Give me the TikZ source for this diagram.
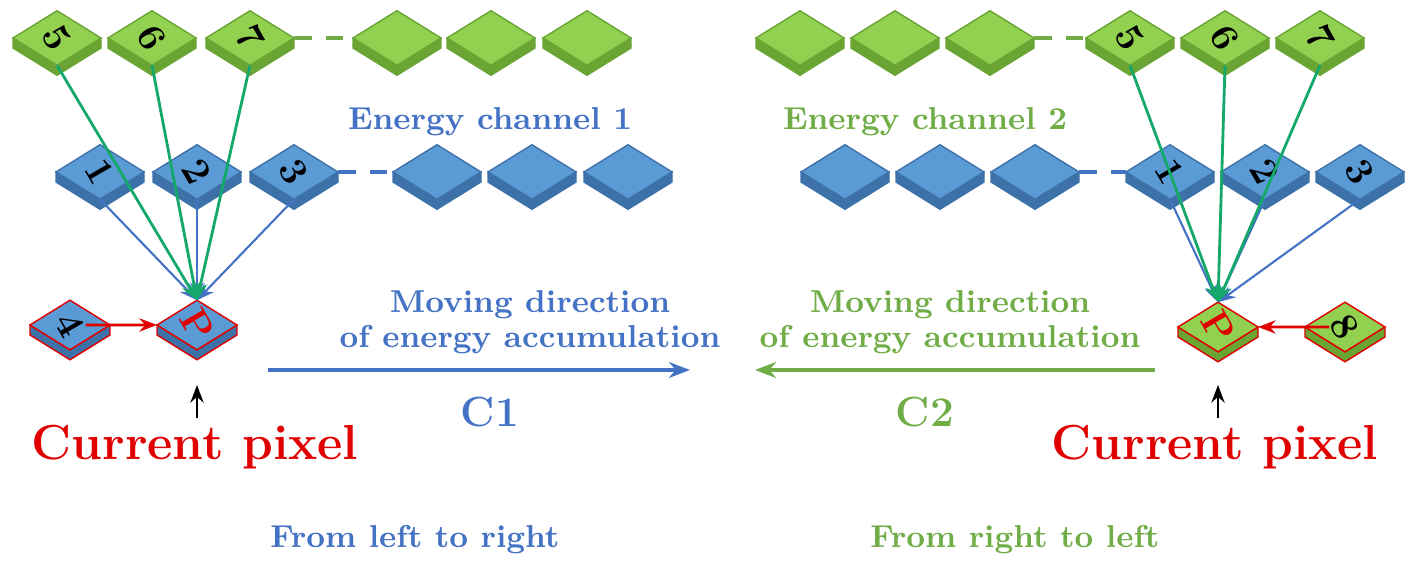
\documentclass[tikz,border=0pt]{standalone}
\usetikzlibrary{arrows.meta}
\definecolor{bt}{HTML}{5B9BD5}\definecolor{bs}{HTML}{3D72A8}
\definecolor{gt}{HTML}{92D050}\definecolor{gs}{HTML}{6AA534}
\definecolor{tb}{HTML}{4472C4}\definecolor{tg}{HTML}{70AD47}
\definecolor{lg}{HTML}{14A86A}\definecolor{rd}{HTML}{E00000}
\newcommand\mytile[9]{% name,x,y,top,side,label,border,halfw,textcolor
 \begin{scope}[shift={(#2,#3)}]
 \pgfmathsetmacro\hw{#8}\pgfmathsetmacro\hh{#8*0.62}
 \fill[#5,draw=#7] (-\hw,0) -- (-\hw,10) -- (0,\hh+10) -- (\hw,10) -- (\hw,0) -- (0,\hh) -- cycle;
 \fill[#4,draw=#7] (-\hw,0) -- (0,-\hh) -- (\hw,0) -- (0,\hh) -- cycle;
 \node[digit,text=#9] (#1) at (0,0) {#6};
 \coordinate (#1-b) at (0,\hh);
 \coordinate (#1-t) at (0,-\hh);
 \coordinate (#1-l) at (-\hw,0);
 \coordinate (#1-r) at (\hw,0);
 \end{scope}}
\tikzset{digit/.style={font=\bfseries\fontsize{11}{11}\selectfont,rotate=-60,inner sep=0},
 lab/.style={font=\bfseries\fontsize{9}{10}\selectfont},
 gl/.style={lg,line width=0.8pt,-{Stealth[length=5pt]}},
 bl/.style={tb,line width=0.6pt,-{Stealth[length=5pt]}},
 cp/.style={rd,font=\bfseries\fontsize{14}{15}\selectfont},
 dsh/.style={dash pattern=on 5pt off 4pt,line width=1pt}}
\begin{document}
\begin{tikzpicture}[x=0.01cm,y=-0.01cm]
\useasboundingbox (0,0) rectangle (1420,574);
% left
\foreach \n/\x/\l in {g5/57/5,g6/152/6,g7/250/7,ga/397/,gb/491/,gc/587/}{\mytile{\n}{\x}{38}{gt}{gs}{\l}{gs}{44}{black}}
\foreach \n/\x/\l in {b1/100/1,b2/197/2,b3/294/3,ba/437/,bb/532/,bc/628/}{\mytile{\n}{\x}{172}{bt}{bs}{\l}{bs}{44}{black}}
\draw[tg,dsh] (g7-r) -- (ga-l);
\draw[tb,dsh] (b3-r) -- (ba-l);
\mytile{t4}{70}{325}{bt}{bs}{4}{rd}{40}{black}
\mytile{pl}{197}{325}{bt}{bs}{P}{rd}{40}{rd}
\foreach \s in {b1,b2,b3}\draw[bl] (\s-b) -- (pl-t);
\foreach \s in {g5,g6,g7}\draw[gl] (\s-b) -- (pl-t);
\draw[rd,line width=0.8pt,-{Stealth[length=5pt]}] (t4) -- (pl-l);
% right
\foreach \n/\x/\l in {hA/800/,hB/895/,hC/990/,h5/1130/5,h6/1225/6,h7/1320/7}{\mytile{\n}{\x}{38}{gt}{gs}{\l}{gs}{44}{black}}
\foreach \n/\x/\l in {cA/845/,cB/940/,cC/1035/,c1/1170/1,c2/1265/2,c3/1360/3}{\mytile{\n}{\x}{172}{bt}{bs}{\l}{bs}{44}{black}}
\draw[tg,dsh] (hC-r) -- (h5-l);
\draw[tb,dsh] (cC-r) -- (c1-l);
\mytile{pr}{1218}{327}{gt}{gs}{P}{rd}{40}{rd}
\mytile{t8}{1345}{327}{gt}{gs}{8}{rd}{40}{black}
\foreach \s in {c1,c2,c3}\draw[bl] (\s-b) -- (pr-t);
\foreach \s in {h5,h6,h7}\draw[gl] (\s-b) -- (pr-t);
\draw[rd,line width=0.8pt,-{Stealth[length=5pt]}] (t8) -- (pr-r);
% texts
\node[lab,text=tb] (e1) at (490,122) {Energy channel 1};
\node[lab,text=tg] (e2) at (925,122) {Energy channel 2};
\node[lab,text=tb,align=center] (m1) at (530,322) {Moving direction\\of energy accumulation};
\node[lab,text=tg,align=center] (m2) at (950,322) {Moving direction\\of energy accumulation};
\coordinate (a1s) at (268,370); \coordinate (a1e) at (690,370);
\coordinate (a2s) at (1155,370); \coordinate (a2e) at (755,370);
\draw[tb,line width=1pt,-{Stealth[length=6pt]}] (a1s) -- (a1e);
\draw[tg,line width=1pt,-{Stealth[length=6pt]}] (a2s) -- (a2e);
\node[text=tb,font=\bfseries\fontsize{12}{12}\selectfont] (c1t) at (490,412) {C1};
\node[text=tg,font=\bfseries\fontsize{12}{12}\selectfont] (c2t) at (925,412) {C2};
\node[cp] (cpl) at (195,447) {Current pixel};
\node[cp] (cpr) at (1215,447) {Current pixel};
\coordinate (k1) at (197,418); \coordinate (k2) at (1218,418);
\draw[line width=0.8pt,-{Stealth[length=5pt]}] (k1) -- ++(0,-33);
\draw[line width=0.8pt,-{Stealth[length=5pt]}] (k2) -- ++(0,-33);
\node[lab,text=tb] (f1) at (415,540) {From left to right};
\node[lab,text=tg] (f2) at (1015,540) {From right to left};
\end{tikzpicture}
\end{document}
